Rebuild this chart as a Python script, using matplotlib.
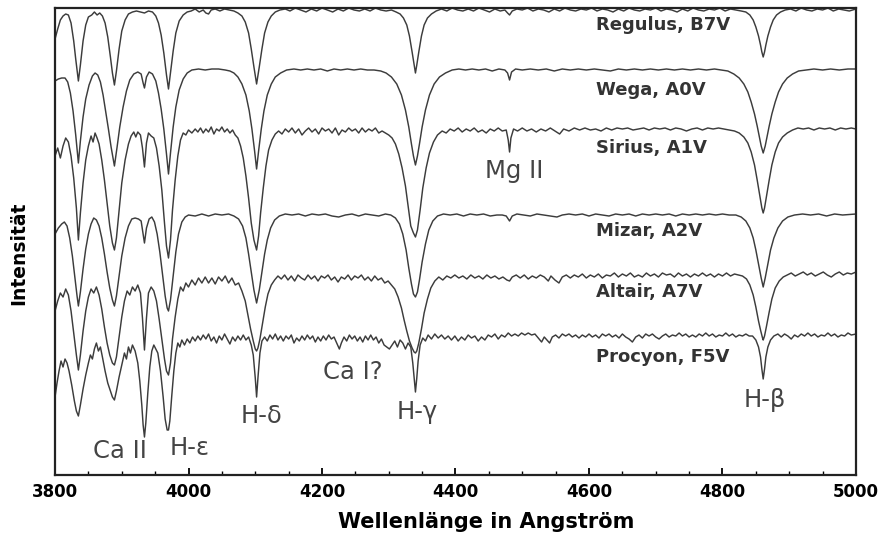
import matplotlib
matplotlib.use('Agg')
from matplotlib import pyplot as plt
from matplotlib.ticker import MultipleLocator

# spectra: (wavelength in Angstrom, normalised intensity)
regulus = [(3800,0.70),(3804,0.80),(3808,0.89),(3812,0.93),(3816,0.95),(3820,0.94),(3824,0.86),(3828,0.68),(3831,0.50),(3835,0.28),(3838,0.44),(3842,0.68),(3846,0.84),(3850,0.92),(3855,0.94),(3859,0.97),(3863,0.94),(3867,0.96),(3871,0.93),(3875,0.86),(3879,0.72),(3883,0.52),(3886,0.36),(3889,0.24),(3892,0.38),(3896,0.60),(3900,0.78),(3905,0.89),(3910,0.95),(3916,0.97),(3922,0.98),(3928,0.97),(3934,0.96),(3940,0.98),(3946,0.97),(3951,0.93),(3955,0.86),(3959,0.74),(3963,0.56),(3967,0.34),(3970,0.20),(3973,0.36),(3977,0.58),(3981,0.76),(3986,0.88),(3992,0.94),(3998,0.97),(4004,0.98),(4010,1.00),(4016,0.97),(4022,0.99),(4026,0.96),(4030,0.95),(4034,0.99),(4040,1.00),(4047,0.98),(4054,1.00),(4061,0.99),(4068,0.98),(4074,0.96),(4080,0.93),(4085,0.87),(4090,0.76),(4094,0.60),(4098,0.42),(4102,0.25),(4106,0.42),(4110,0.60),(4114,0.76),(4119,0.87),(4124,0.93),(4130,0.97),(4137,0.99),(4145,1.00),(4152,0.98),(4160,1.01),(4168,0.99),(4176,0.97),(4184,1.00),(4192,0.98),(4200,1.01),(4208,0.99),(4216,0.97),(4224,1.00),(4232,0.98),(4240,1.01),(4248,0.99),(4256,0.98),(4264,1.00),(4272,0.98),(4280,1.01),(4288,0.99),(4296,0.98),(4304,0.99),(4311,0.97),(4317,0.95),(4322,0.91),(4327,0.84),(4331,0.73),(4335,0.57),(4338,0.44),(4340,0.36),(4342,0.44),(4345,0.57),(4349,0.73),(4353,0.84),(4358,0.91),(4364,0.95),(4371,0.98),(4379,1.00),(4387,0.98),(4395,1.01),(4403,0.99),(4411,0.98),(4419,1.00),(4427,0.98),(4435,1.01),(4443,0.99),(4451,0.97),(4459,1.00),(4467,0.98),(4474,0.99),(4478,0.96),(4481,0.94),(4485,0.98),(4492,1.00),(4500,0.99),(4508,1.01),(4516,0.98),(4524,1.00),(4532,0.99),(4540,0.97),(4548,1.00),(4556,0.98),(4564,1.01),(4572,0.99),(4580,0.98),(4588,1.00),(4596,0.99),(4604,1.01),(4612,0.98),(4620,1.00),(4628,0.99),(4636,0.97),(4644,1.00),(4652,0.98),(4660,1.01),(4668,0.99),(4676,0.98),(4684,1.00),(4692,0.99),(4700,1.01),(4708,0.98),(4716,1.00),(4724,0.99),(4732,0.97),(4740,1.00),(4748,0.98),(4756,1.01),(4764,0.99),(4772,0.98),(4780,1.00),(4788,0.99),(4796,1.01),(4804,0.98),(4812,1.00),(4820,0.99),(4828,0.98),(4835,0.97),(4841,0.94),(4846,0.89),(4850,0.82),(4854,0.73),(4857,0.64),(4859,0.57),(4861,0.52),(4863,0.57),(4865,0.64),(4868,0.73),(4872,0.82),(4876,0.89),(4881,0.94),(4887,0.97),(4894,0.99),(4902,1.00),(4910,0.98),(4918,1.01),(4926,0.99),(4934,0.98),(4942,1.00),(4950,0.99),(4958,1.01),(4966,0.98),(4974,1.00),(4982,0.99),(4990,0.98),(5000,1.00)]

wega = [(3800,0.88),(3805,0.90),(3810,0.91),(3815,0.91),(3819,0.87),(3823,0.76),(3827,0.58),(3831,0.34),(3835,0.06),(3838,0.28),(3842,0.52),(3846,0.70),(3851,0.84),(3856,0.93),(3860,0.96),(3864,0.94),(3868,0.87),(3872,0.74),(3876,0.57),(3880,0.40),(3884,0.22),(3889,0.03),(3893,0.22),(3897,0.42),(3902,0.62),(3907,0.78),(3912,0.89),(3918,0.95),(3924,0.97),(3929,0.95),(3932,0.86),(3934,0.81),(3937,0.92),(3941,0.97),(3946,0.95),(3951,0.88),(3955,0.76),(3959,0.60),(3963,0.40),(3967,0.15),(3970,-0.05),(3973,0.16),(3977,0.42),(3981,0.62),(3986,0.79),(3992,0.90),(3998,0.96),(4005,0.99),(4015,1.00),(4025,0.99),(4035,1.00),(4045,1.00),(4055,0.99),(4062,0.98),(4068,0.96),(4074,0.92),(4080,0.85),(4086,0.74),(4091,0.58),(4095,0.40),(4099,0.18),(4102,0.00),(4105,0.18),(4109,0.40),(4113,0.58),(4118,0.74),(4124,0.85),(4130,0.92),(4138,0.96),(4147,0.99),(4158,1.00),(4168,0.99),(4178,1.00),(4188,0.99),(4198,1.00),(4208,0.98),(4218,1.00),(4228,0.99),(4238,1.00),(4248,0.99),(4258,1.00),(4268,0.99),(4278,0.99),(4288,0.98),(4296,0.96),(4304,0.92),(4312,0.85),(4319,0.74),(4325,0.59),(4330,0.42),(4334,0.25),(4337,0.13),(4340,0.04),(4343,0.13),(4346,0.25),(4350,0.42),(4355,0.59),(4361,0.74),(4368,0.85),(4376,0.92),(4385,0.96),(4395,0.99),(4405,1.00),(4415,0.99),(4425,1.00),(4435,0.99),(4445,1.00),(4455,0.98),(4465,1.00),(4474,0.99),(4478,0.96),(4481,0.89),(4484,0.97),(4490,1.00),(4500,0.99),(4512,1.00),(4524,0.99),(4536,1.00),(4548,0.98),(4560,1.00),(4572,0.99),(4584,1.00),(4596,0.99),(4608,1.00),(4620,0.99),(4632,0.98),(4644,1.00),(4656,0.99),(4668,1.00),(4680,0.99),(4692,1.00),(4704,0.99),(4716,1.00),(4728,0.99),(4740,1.00),(4752,0.99),(4764,1.00),(4776,0.99),(4788,1.00),(4798,0.99),(4808,0.98),(4817,0.95),(4825,0.91),(4832,0.85),(4838,0.77),(4843,0.67),(4848,0.55),(4852,0.43),(4855,0.33),(4858,0.23),(4861,0.16),(4864,0.23),(4867,0.33),(4870,0.43),(4874,0.55),(4879,0.67),(4884,0.77),(4890,0.85),(4897,0.91),(4905,0.95),(4914,0.98),(4925,0.99),(4937,1.00),(4950,0.99),(4962,1.00),(4975,0.99),(4988,1.00),(5000,1.00)]

sirius = [(3800,0.72),(3804,0.80),(3808,0.70),(3812,0.82),(3816,0.90),(3820,0.86),(3824,0.72),(3828,0.50),(3832,0.20),(3835,-0.12),(3838,0.15),(3842,0.45),(3846,0.68),(3850,0.82),(3854,0.92),(3857,0.86),(3860,0.95),(3863,0.90),(3866,0.84),(3870,0.68),(3874,0.48),(3878,0.25),(3882,0.02),(3886,-0.15),(3889,-0.22),(3892,-0.10),(3896,0.18),(3900,0.45),(3905,0.68),(3910,0.84),(3914,0.92),(3918,0.96),(3921,0.91),(3924,0.96),(3928,0.93),(3931,0.80),(3934,0.61),(3937,0.85),(3940,0.95),(3944,0.92),(3948,0.90),(3952,0.80),(3956,0.62),(3960,0.38),(3964,0.05),(3967,-0.18),(3970,-0.30),(3973,-0.12),(3976,0.18),(3980,0.48),(3984,0.72),(3988,0.88),(3992,0.95),(3996,0.93),(4000,0.98),(4005,0.95),(4010,0.99),(4014,0.96),(4018,1.00),(4022,0.95),(4026,0.99),(4030,0.96),(4034,1.01),(4038,0.94),(4042,0.99),(4046,0.97),(4050,1.01),(4054,0.96),(4058,0.99),(4062,0.95),(4066,0.98),(4070,0.93),(4074,0.90),(4078,0.82),(4082,0.70),(4086,0.52),(4090,0.30),(4094,0.05),(4098,-0.12),(4102,-0.22),(4105,-0.08),(4108,0.15),(4112,0.40),(4116,0.62),(4120,0.78),(4125,0.88),(4130,0.94),(4135,0.97),(4140,0.94),(4145,0.99),(4150,0.96),(4155,1.00),(4160,0.95),(4165,0.99),(4170,0.93),(4175,0.97),(4180,1.00),(4185,0.96),(4190,0.99),(4195,0.94),(4200,1.00),(4205,0.97),(4210,0.99),(4215,0.95),(4220,1.00),(4225,0.93),(4230,0.98),(4235,0.96),(4240,1.00),(4245,0.97),(4250,0.99),(4255,0.95),(4260,1.00),(4265,0.96),(4270,0.99),(4275,0.97),(4280,1.00),(4285,0.95),(4290,0.97),(4295,0.95),(4300,0.93),(4305,0.90),(4310,0.84),(4315,0.74),(4320,0.60),(4325,0.42),(4329,0.22),(4333,0.02),(4337,-0.05),(4340,-0.09),(4343,-0.02),(4347,0.18),(4351,0.40),(4356,0.60),(4361,0.75),(4367,0.86),(4373,0.93),(4380,0.97),(4386,0.95),(4392,0.99),(4398,0.97),(4404,1.00),(4410,0.96),(4416,0.99),(4422,0.97),(4428,1.00),(4434,0.96),(4440,0.98),(4446,0.95),(4452,0.99),(4458,0.97),(4464,1.00),(4470,0.97),(4476,0.98),(4479,0.88),(4481,0.76),(4483,0.90),(4487,0.99),(4493,0.97),(4500,1.00),(4507,0.97),(4514,0.99),(4521,0.96),(4528,0.99),(4535,0.97),(4542,1.00),(4549,0.97),(4556,0.94),(4562,0.99),(4570,0.97),(4578,1.00),(4586,0.98),(4594,1.00),(4602,0.98),(4610,0.99),(4618,0.97),(4626,1.00),(4634,0.98),(4642,1.00),(4650,0.99),(4658,1.00),(4666,0.98),(4674,0.99),(4682,1.00),(4690,0.98),(4698,1.00),(4706,0.99),(4714,1.00),(4722,0.98),(4730,1.00),(4738,0.99),(4746,0.97),(4754,0.99),(4762,1.00),(4770,0.98),(4778,1.00),(4786,0.99),(4794,1.00),(4802,0.99),(4810,0.98),(4818,0.97),(4825,0.95),(4832,0.91),(4838,0.85),(4843,0.76),(4848,0.63),(4852,0.48),(4856,0.32),(4859,0.20),(4861,0.15),(4863,0.20),(4866,0.32),(4870,0.48),(4874,0.63),(4879,0.76),(4884,0.85),(4890,0.91),(4897,0.95),(4905,0.98),(4913,1.00),(4921,0.99),(4929,1.00),(4937,0.98),(4945,1.00),(4953,0.99),(4961,1.00),(4969,0.98),(4977,1.00),(4985,0.99),(4993,1.00),(5000,0.99)]

mizar = [(3800,0.80),(3805,0.86),(3810,0.90),(3814,0.92),(3818,0.88),(3822,0.76),(3826,0.58),(3830,0.35),(3833,0.18),(3835,0.08),(3838,0.22),(3842,0.45),(3846,0.65),(3850,0.80),(3854,0.90),(3858,0.96),(3862,0.94),(3866,0.88),(3870,0.76),(3874,0.60),(3878,0.42),(3882,0.26),(3886,0.14),(3889,0.08),(3892,0.18),(3896,0.38),(3900,0.58),(3905,0.76),(3910,0.88),(3915,0.95),(3920,0.96),(3925,0.95),(3929,0.93),(3932,0.80),(3934,0.71),(3937,0.86),(3941,0.95),(3945,0.97),(3949,0.92),(3953,0.80),(3957,0.62),(3961,0.40),(3965,0.18),(3968,0.06),(3970,0.03),(3973,0.14),(3977,0.38),(3981,0.62),(3985,0.80),(3990,0.92),(3995,0.97),(4000,0.99),(4010,0.98),(4020,1.00),(4030,0.98),(4040,1.00),(4050,0.99),(4060,1.00),(4068,0.98),(4075,0.95),(4081,0.88),(4086,0.76),(4090,0.60),(4094,0.42),(4098,0.24),(4102,0.11),(4106,0.24),(4110,0.42),(4114,0.60),(4118,0.74),(4123,0.86),(4129,0.94),(4136,0.98),(4145,1.00),(4155,0.99),(4165,1.00),(4175,0.98),(4185,1.00),(4195,0.99),(4205,1.00),(4215,0.98),(4225,0.97),(4235,0.99),(4245,1.00),(4255,0.98),(4265,1.00),(4275,0.99),(4285,0.98),(4295,1.00),(4303,0.99),(4310,0.96),(4316,0.90),(4321,0.80),(4326,0.64),(4330,0.46),(4334,0.30),(4337,0.20),(4340,0.17),(4343,0.22),(4346,0.34),(4350,0.52),(4355,0.70),(4360,0.84),(4366,0.93),(4373,0.98),(4382,1.00),(4392,0.99),(4402,1.00),(4412,0.98),(4422,1.00),(4432,0.99),(4442,1.00),(4452,0.98),(4462,0.99),(4470,0.99),(4476,0.98),(4481,0.93),(4485,0.98),(4492,1.00),(4502,0.99),(4512,0.98),(4522,1.00),(4532,0.99),(4542,0.98),(4552,0.97),(4560,0.99),(4570,1.00),(4580,0.99),(4590,1.00),(4600,0.98),(4610,1.00),(4620,0.99),(4630,0.98),(4640,1.00),(4650,0.99),(4660,1.00),(4670,0.98),(4680,1.00),(4690,0.99),(4700,1.00),(4710,0.99),(4720,1.00),(4730,0.98),(4740,1.00),(4750,0.99),(4760,1.00),(4770,0.99),(4780,1.00),(4790,0.99),(4800,1.00),(4810,0.99),(4820,0.99),(4828,0.97),(4835,0.93),(4841,0.86),(4846,0.76),(4850,0.64),(4854,0.50),(4858,0.36),(4861,0.27),(4864,0.36),(4868,0.50),(4872,0.64),(4877,0.76),(4883,0.86),(4890,0.93),(4898,0.97),(4908,0.99),(4920,1.00),(4932,0.99),(4944,1.00),(4956,0.98),(4968,1.00),(4980,0.99),(5000,1.00)]

altair = [(3800,0.62),(3804,0.72),(3808,0.80),(3812,0.76),(3816,0.84),(3820,0.78),(3824,0.62),(3828,0.40),(3832,0.18),(3835,0.03),(3838,0.18),(3842,0.42),(3846,0.62),(3850,0.76),(3854,0.84),(3858,0.80),(3862,0.86),(3866,0.78),(3870,0.64),(3874,0.46),(3878,0.30),(3882,0.18),(3886,0.10),(3889,0.08),(3892,0.16),(3896,0.36),(3900,0.56),(3904,0.72),(3908,0.82),(3912,0.78),(3916,0.86),(3920,0.82),(3924,0.88),(3928,0.80),(3931,0.55),(3934,0.23),(3937,0.55),(3940,0.80),(3944,0.86),(3948,0.82),(3952,0.72),(3956,0.54),(3960,0.34),(3964,0.14),(3967,0.02),(3970,-0.02),(3973,0.10),(3976,0.34),(3980,0.56),(3984,0.74),(3988,0.86),(3992,0.82),(3996,0.90),(4000,0.86),(4005,0.93),(4010,0.88),(4015,0.95),(4020,0.90),(4025,0.96),(4030,0.90),(4035,0.95),(4040,0.89),(4045,0.96),(4050,0.92),(4055,0.97),(4060,0.90),(4065,0.95),(4070,0.88),(4075,0.90),(4080,0.82),(4085,0.72),(4089,0.58),(4093,0.44),(4097,0.32),(4100,0.24),(4102,0.22),(4104,0.25),(4107,0.34),(4111,0.50),(4115,0.66),(4119,0.79),(4124,0.88),(4129,0.93),(4134,0.97),(4139,0.94),(4144,0.98),(4149,0.93),(4154,0.97),(4159,0.92),(4164,0.98),(4169,0.95),(4174,0.93),(4179,0.98),(4184,0.94),(4189,0.97),(4194,0.92),(4199,0.97),(4204,0.95),(4209,0.98),(4214,0.93),(4219,0.96),(4224,0.91),(4229,0.96),(4234,0.94),(4239,0.98),(4244,0.93),(4249,0.97),(4254,0.95),(4259,0.98),(4264,0.93),(4269,0.96),(4274,0.92),(4279,0.97),(4284,0.93),(4289,0.95),(4294,0.90),(4299,0.92),(4304,0.88),(4309,0.84),(4314,0.76),(4319,0.65),(4323,0.53),(4327,0.42),(4331,0.32),(4335,0.25),(4338,0.21),(4340,0.20),(4342,0.22),(4345,0.30),(4349,0.44),(4353,0.60),(4358,0.74),(4363,0.85),(4369,0.92),(4375,0.96),(4381,0.93),(4387,0.97),(4393,0.95),(4399,0.98),(4405,0.95),(4411,0.97),(4417,0.94),(4423,0.98),(4429,0.95),(4435,0.97),(4441,0.94),(4447,0.98),(4453,0.95),(4459,0.97),(4465,0.94),(4471,0.96),(4477,0.93),(4481,0.92),(4485,0.96),(4491,0.98),(4497,0.95),(4503,0.98),(4509,0.94),(4515,0.97),(4521,0.95),(4527,0.98),(4533,0.96),(4539,0.92),(4543,0.97),(4549,0.93),(4555,0.90),(4560,0.96),(4566,0.98),(4572,0.95),(4578,0.98),(4584,0.96),(4590,0.99),(4596,0.95),(4602,0.98),(4608,0.96),(4614,0.99),(4620,0.95),(4626,0.98),(4632,0.97),(4638,1.00),(4644,0.96),(4650,0.99),(4656,0.97),(4662,1.00),(4668,0.96),(4674,0.98),(4680,0.96),(4686,1.00),(4692,0.97),(4698,0.99),(4704,0.96),(4710,1.00),(4716,0.98),(4722,0.99),(4728,0.96),(4734,1.00),(4740,0.97),(4746,0.99),(4752,0.96),(4758,0.99),(4764,0.97),(4770,1.00),(4776,0.97),(4782,0.99),(4788,0.96),(4794,0.99),(4800,0.97),(4806,1.00),(4812,0.97),(4818,0.99),(4824,0.98),(4830,0.97),(4836,0.94),(4841,0.88),(4846,0.78),(4850,0.66),(4854,0.52),(4857,0.43),(4860,0.35),(4861,0.33),(4863,0.37),(4866,0.47),(4870,0.61),(4874,0.74),(4879,0.85),(4885,0.92),(4891,0.96),(4897,0.98),(4903,1.00),(4909,0.97),(4915,0.99),(4921,1.01),(4927,0.98),(4933,1.00),(4939,0.97),(4945,0.99),(4951,1.01),(4957,0.98),(4963,0.96),(4969,0.99),(4975,1.01),(4981,0.98),(4987,1.00),(4993,0.99),(5000,1.01)]

procyon = [(3800,0.36),(3803,0.50),(3806,0.62),(3809,0.72),(3812,0.66),(3815,0.74),(3818,0.70),(3821,0.62),(3825,0.48),(3829,0.32),(3832,0.22),(3835,0.17),(3838,0.28),(3842,0.44),(3846,0.58),(3850,0.70),(3853,0.78),(3856,0.74),(3859,0.84),(3862,0.90),(3865,0.82),(3868,0.86),(3871,0.76),(3875,0.62),(3879,0.50),(3883,0.42),(3886,0.36),(3889,0.33),(3892,0.42),(3896,0.56),(3900,0.68),(3904,0.80),(3907,0.74),(3910,0.86),(3913,0.80),(3916,0.88),(3920,0.82),(3924,0.70),(3927,0.52),(3930,0.28),(3932,0.08),(3934,-0.04),(3936,0.10),(3939,0.40),(3942,0.66),(3945,0.82),(3948,0.88),(3951,0.84),(3954,0.80),(3958,0.62),(3962,0.36),(3965,0.14),(3968,0.03),(3970,0.03),(3972,0.12),(3975,0.38),(3978,0.62),(3981,0.80),(3984,0.90),(3987,0.86),(3990,0.93),(3994,0.88),(3998,0.94),(4002,0.90),(4006,0.96),(4010,0.92),(4014,0.97),(4018,0.93),(4022,0.98),(4026,0.94),(4030,0.99),(4034,0.92),(4038,0.96),(4042,0.90),(4046,0.97),(4050,0.93),(4054,0.99),(4058,0.94),(4062,0.89),(4066,0.96),(4070,0.92),(4074,0.97),(4078,0.93),(4082,0.98),(4086,0.93),(4090,0.96),(4094,0.88),(4097,0.78),(4100,0.55),(4102,0.36),(4104,0.55),(4107,0.80),(4110,0.92),(4114,0.96),(4118,0.92),(4122,0.98),(4126,0.94),(4130,0.99),(4134,0.93),(4138,0.97),(4142,0.92),(4146,0.97),(4150,0.94),(4154,0.98),(4158,0.90),(4162,0.95),(4166,0.92),(4170,0.97),(4174,0.93),(4178,0.98),(4182,0.94),(4186,0.97),(4190,0.91),(4194,0.96),(4198,0.92),(4202,0.97),(4206,0.93),(4210,0.98),(4214,0.94),(4218,0.96),(4222,0.90),(4226,0.84),(4229,0.90),(4233,0.96),(4237,0.92),(4241,0.98),(4245,0.94),(4249,0.97),(4253,0.92),(4257,0.96),(4261,0.91),(4265,0.97),(4269,0.93),(4273,0.98),(4277,0.93),(4281,0.96),(4285,0.90),(4289,0.94),(4293,0.88),(4297,0.86),(4301,0.84),(4305,0.88),(4309,0.92),(4313,0.86),(4317,0.93),(4321,0.90),(4325,0.84),(4329,0.90),(4333,0.86),(4336,0.70),(4338,0.55),(4340,0.41),(4342,0.55),(4344,0.72),(4347,0.88),(4351,0.95),(4355,0.92),(4359,0.98),(4364,0.94),(4369,0.99),(4374,0.95),(4379,0.98),(4384,0.94),(4389,0.97),(4394,0.93),(4399,0.97),(4404,0.92),(4409,0.96),(4414,0.93),(4419,0.98),(4424,0.95),(4429,0.97),(4434,0.92),(4439,0.96),(4444,0.93),(4449,0.98),(4454,0.96),(4459,0.99),(4464,0.94),(4469,0.98),(4474,0.96),(4479,1.00),(4484,0.97),(4489,0.99),(4494,0.97),(4499,1.00),(4504,0.98),(4509,1.00),(4514,0.98),(4519,0.99),(4524,0.95),(4529,0.91),(4533,0.96),(4537,0.93),(4541,0.90),(4545,0.96),(4550,0.98),(4555,0.95),(4560,0.99),(4565,0.97),(4570,0.99),(4575,0.96),(4580,0.98),(4585,0.95),(4590,0.98),(4595,0.96),(4600,0.99),(4605,0.96),(4610,0.98),(4615,0.95),(4620,0.99),(4625,0.97),(4630,0.99),(4635,0.96),(4640,0.98),(4645,0.95),(4650,0.99),(4655,0.96),(4660,0.94),(4665,0.91),(4670,0.96),(4675,0.98),(4680,0.95),(4685,0.99),(4690,0.97),(4695,0.99),(4700,0.96),(4705,0.94),(4710,0.97),(4715,0.99),(4720,0.96),(4725,0.98),(4730,0.97),(4735,1.00),(4740,0.97),(4745,0.99),(4750,0.96),(4755,0.98),(4760,0.96),(4765,0.99),(4770,0.97),(4775,1.00),(4780,0.97),(4785,0.99),(4790,0.96),(4795,0.98),(4800,0.97),(4805,1.00),(4810,0.97),(4815,0.99),(4820,0.96),(4825,0.98),(4830,0.97),(4835,0.99),(4840,0.97),(4845,0.97),(4850,0.93),(4854,0.86),(4857,0.76),(4859,0.64),(4861,0.54),(4863,0.64),(4865,0.76),(4868,0.86),(4872,0.93),(4877,0.97),(4883,0.99),(4888,0.96),(4893,0.99),(4898,0.97),(4903,0.94),(4908,0.98),(4913,0.96),(4918,0.99),(4923,0.97),(4928,1.00),(4933,0.97),(4938,0.99),(4943,0.96),(4948,0.98),(4953,0.97),(4958,1.00),(4963,0.97),(4968,0.99),(4973,0.96),(4978,0.98),(4983,0.97),(4988,1.00),(4993,0.98),(5000,0.99)]

spectra = [regulus, wega, sirius, mizar, altair, procyon]
star_names = ['Regulus, B7V', 'Wega, A0V', 'Sirius, A1V', 'Mizar, A2V', 'Altair, A7V', 'Procyon, F5V']
line_names = ['Ca II', 'H-ε', 'H-δ', 'Ca I?', 'H-γ', 'Mg II', 'H-β']

# vertical shift of each spectrum and placement of the annotations
offsets = [3.66, 3.06, 2.47, 1.61, 1.02, 0.42]
name_y = [4.50, 3.85, 3.27, 2.44, 1.83, 1.18]
line_pos = [(3897, 0.24), (4002, 0.27), (4110, 0.59), (4246, 1.03), (4342, 0.63), (4488, 3.04), (4864, 0.75)]

fig = plt.figure(figsize=(8.79, 5.33), dpi=100)
ax = fig.add_axes([0.0626, 0.1088, 0.9112, 0.8762])

for spec, off in zip(spectra, offsets):
    wl = [p[0] for p in spec]
    fl = [p[1] + off for p in spec]
    ax.plot(wl, fl, color='#3c3c3c', lw=1.05)

for name, y in zip(star_names, name_y):
    ax.text(4610, y, name, fontsize=13, fontweight='bold', color='#333333',
            ha='left', va='center')

for name, (x, y) in zip(line_names, line_pos):
    ax.text(x, y, name, fontsize=17.5, color='#444444', ha='center', va='center')

ax.set_xlim(3800, 5000)
ax.set_ylim(0, 4.67)
ax.set_yticks([])
ax.xaxis.set_major_locator(MultipleLocator(200))
ax.xaxis.set_minor_locator(MultipleLocator(50))
ax.tick_params(axis='x', which='major', direction='in', length=5, width=1.3, pad=6,
               labelsize=12)
ax.tick_params(axis='x', which='minor', direction='in', length=3, width=1)
for lab in ax.get_xticklabels():
    lab.set_fontweight('bold')
for sp in ax.spines.values():
    sp.set_linewidth(1.6)
    sp.set_color('#222222')

ax.set_xlabel('Wellenlänge in Angström', fontsize=15, fontweight='bold')
ax.xaxis.set_label_coords(0.538, -0.079)
ax.set_ylabel('Intensität', fontsize=13.5, fontweight='bold')
ax.yaxis.set_label_coords(-0.034, 0.475)

fig.savefig('out.png', dpi=100)
